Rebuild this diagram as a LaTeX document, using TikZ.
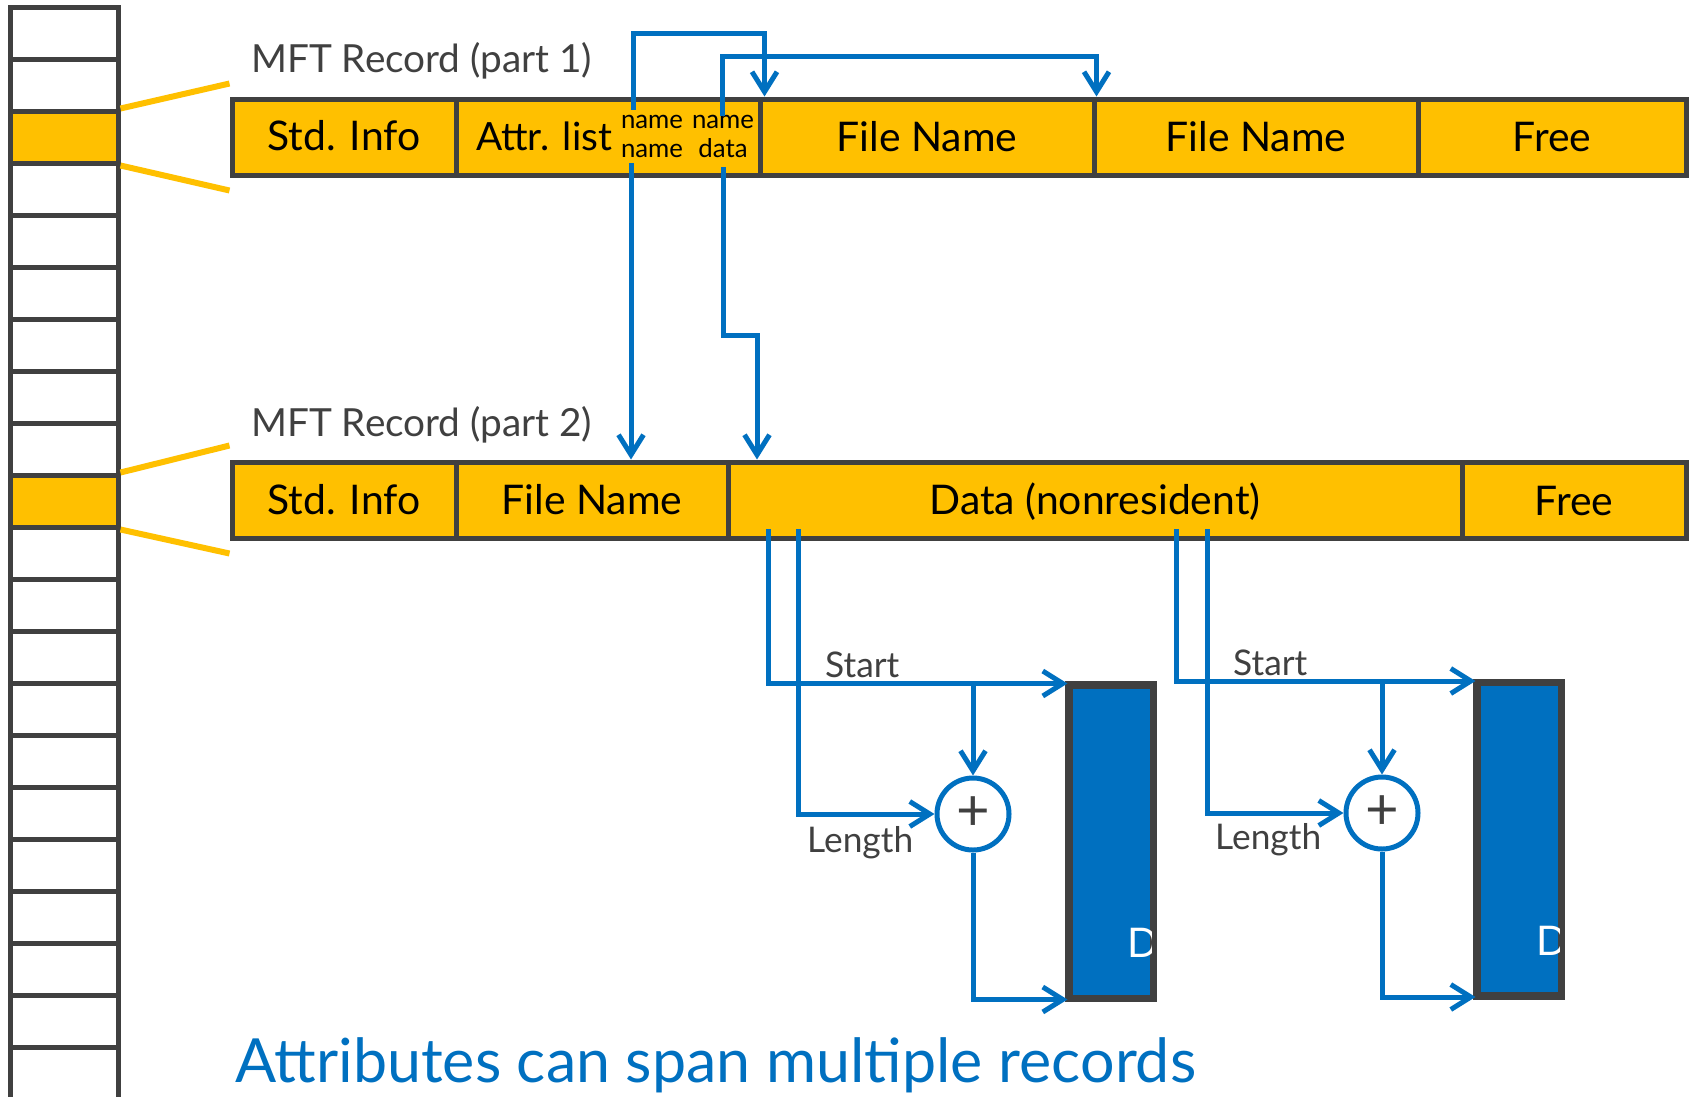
\documentclass[tikz,border=0pt]{standalone}
\usepackage{fontspec}
\setmainfont{Lato}
\usetikzlibrary{arrows.meta,calc}
\definecolor{ygold}{HTML}{FFC000}
\definecolor{dgray}{HTML}{404040}
\definecolor{mblue}{HTML}{0070C0}
\newcommand\calcfs[3]{\setbox0=\hbox{\normalfont\fontsize{10pt}{12pt}\selectfont #3}\edef\tmpw{\the\wd0}\pgfmathsetmacro#1{10*#2/\tmpw}}
\newcommand\fbar{\fontsize{\fsBar pt}{\fsBar pt}\selectfont}
\newcommand\fattr{\fontsize{\fsAttr pt}{\fsAttr pt}\selectfont}
\newcommand\fmft{\fontsize{\fsMft pt}{\fsMft pt}\selectfont}
\newcommand\fsml{\fontsize{\fsSm pt}{\fsSm pt}\selectfont}
\newcommand\flab{\fontsize{\fsLab pt}{\fsLab pt}\selectfont}
\newcommand\fttl{\fontsize{\fsTtl pt}{\fsTtl pt}\selectfont}
\newcommand\fplus{\fontsize{58pt}{58pt}\selectfont}
\AtBeginDocument{%
\calcfs\fsBar{331}{Data (nonresident)}%
\calcfs\fsAttr{136}{Attr. list}%
\calcfs\fsMft{341}{MFT Record (part 1)}%
\calcfs\fsSm{62}{name}%
\calcfs\fsLab{106}{Length}%
\calcfs\fsTtl{961}{Attributes can span multiple records}}
\begin{document}
\begin{tikzpicture}[x=1pt,y=-1pt,
  cell/.style={draw=dgray,fill=ygold,line width=5pt,inner sep=0pt,minimum height=76pt},
  slot/.style={draw=dgray,fill=white,line width=5pt,inner sep=0pt,minimum width=108pt,minimum height=52pt},
  yline/.style={draw=ygold,line width=6pt},
  barrow/.style={draw=mblue,line width=5pt,-{Straight Barb[length=20pt,width=25pt]}},
  lbl/.style={anchor=base,inner sep=0pt,text=black,font=\fbar},
  mft/.style={anchor=base west,inner sep=0pt,text=dgray,font=\fmft},
  sml/.style={anchor=base,inner sep=0pt,text=black,font=\fsml},
  glab/.style={anchor=base west,inner sep=0pt,text=dgray,font=\flab},
  plusc/.style={circle,draw=mblue,line width=5pt,fill=white,minimum size=72pt,inner sep=0pt,text=dgray,font=\fplus},
  run/.style={fill=mblue,draw=dgray,line width=5pt,inner sep=0pt,minimum width=82pt,minimum height=311pt},
  dlab/.style={anchor=base west,inner sep=0pt,text=white,font=\fbar}
]
\useasboundingbox (0,0) rectangle (1694,1096);
\clip (0,0) rectangle (1694,1096);

% MFT column
\foreach \k in {0,1,3,4,5,6,7,8,10,11,...,20}{\node[slot] (slot\k) at (64,{33+52*\k}) {};}
\node[slot,fill=ygold] (slot2) at (64,137) {};
\node[slot,fill=ygold] (slot9) at (64,501) {};

% Record 1
\node[cell,minimum width=224pt] (r1a) at (344,137) {};
\node[cell,minimum width=304pt] (r1b) at (608,137) {};
\node[cell,minimum width=334pt] (r1c) at (927,137) {};
\node[cell,minimum width=324pt] (r1d) at (1256,137) {};
\node[cell,minimum width=268pt] (r1e) at (1552,137) {};
\node[lbl] (t1a) at (344,150) {Std. Info};
\node[lbl,anchor=base west,font=\fattr] (t1b) at (476,150) {Attr. list};
\node[lbl] (t1c) at (927,151) {File Name};
\node[lbl] (t1d) at (1256,151) {File Name};
\node[lbl] (t1e) at (1552,151) {Free};
\node[sml] (n1) at (652,128) {name};
\node[sml] (n2) at (723,128) {name};
\node[sml] (n3) at (652,157) {name};
\node[sml] (n4) at (723,157) {data};
\node[mft] (mft1) at (251,72) {MFT Record (part 1)};

% Record 2
\node[cell,minimum width=224pt] (r2a) at (344,500) {};
\node[cell,minimum width=272pt] (r2b) at (592,500) {};
\node[cell,minimum width=734pt] (r2c) at (1095,500) {};
\node[cell,minimum width=224pt] (r2d) at (1574,500) {};
\node[lbl] (t2a) at (344,514) {Std. Info};
\node[lbl] (t2b) at (592,514) {File Name};
\node[lbl] (t2c) at (1095,514) {Data (nonresident)};
\node[lbl] (t2d) at (1574,515) {Free};
\node[mft] (mft2) at (251,436) {MFT Record (part 2)};

% yellow zoom lines
\draw[yline] (slot2.north east) -- ($(r1a.north west)+(0,-13)$);
\draw[yline] (slot2.south east) -- ($(r1a.south west)+(0,13)$);
\draw[yline] (slot9.north east) -- ($(r2a.north west)+(0,-14)$);
\draw[yline] (slot9.south east) -- ($(r2a.south west)+(0,13)$);

% attribute list pointers
\coordinate (p1) at (633,110);
\coordinate (p2) at (722,116);
\draw[barrow] (p1) -- (633,33) -| ([xshift=7pt]r1c.north west);
\draw[barrow] (p2) -- (722,56) -| ([xshift=5pt]r1d.north west);
\coordinate (p3) at (631,163);
\coordinate (p4) at (723,167);
\coordinate (k4) at (757,335);
\draw[barrow] (p3) -- (p3 |- r2b.north);
\draw[barrow] (p4) |- (k4) -- (k4 |- r2c.north);

% run 1
\node[run] (run1) at (1111,841.5) {};
\begin{scope}
\clip (run1.north west) rectangle (run1.south east);
\node[dlab] (d1) at (1127,957) {D};
\end{scope}
\draw[dgray,line width=5pt] (run1.north west) rectangle (run1.south east);
\node[plusc] (plus1) at (973,814) {+};
\coordinate (s1) at (768,529);
\coordinate (l1) at (798,529);
\draw[barrow] (s1) |- (run1.north west);
\draw[barrow] (plus1 |- run1.north west) -- (plus1.north);
\draw[barrow] (l1) |- (plus1.west);
\draw[barrow] (plus1.south) |- (run1.south west);
\node[glab] (st1) at (825,677) {Start};
\node[glab] (ln1) at (807,852) {Length};

% run 2
\node[run] (run2) at (1519,839) {};
\begin{scope}
\clip (run2.north west) rectangle (run2.south east);
\node[dlab] (d2) at (1536,955) {D};
\end{scope}
\draw[dgray,line width=5pt] (run2.north west) rectangle (run2.south east);
\node[plusc] (plus2) at (1382,813) {+};
\coordinate (s2) at (1176,529);
\coordinate (l2) at (1207,529);
\draw[barrow] (s2) |- (run2.north west);
\draw[barrow] (plus2 |- run2.north west) -- (plus2.north);
\draw[barrow] (l2) |- (plus2.west);
\draw[barrow] (plus2.south) |- (run2.south west);
\node[glab] (st2) at (1233,675) {Start};
\node[glab] (ln2) at (1215,849) {Length};

% title
\node[anchor=base west,inner sep=0pt,text=mblue,font=\fttl] (title) at (235,1082) {Attributes can span multiple records};
\end{tikzpicture}
\end{document}
